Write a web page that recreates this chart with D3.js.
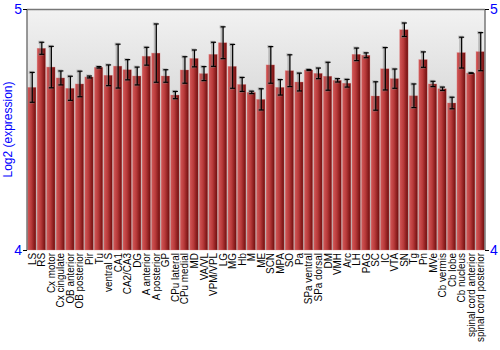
<!DOCTYPE html>
<html>
<head>
<meta charset="utf-8">
<script src="https://cdn.jsdelivr.net/npm/d3@7"></script>
<style>
  body { margin: 0; background: #fff; }
  svg { font-family: "Liberation Sans", Arial, sans-serif; }
</style>
</head>
<body>
<div id="wrapper"></div>
<script>
const regions = ["LS", "RS", "Cx motor", "Cx cingulate", "OB anterior", "OB posterior", "Pir", "Tu",
  "ventral S", "CA1", "CA2/CA3", "DG", "A anterior", "A posterior", "GP", "CPu lateral", "CPu medial",
  "MD", "VA/VL", "VPM/VPL", "LG", "MG", "Hb", "M", "ME", "SCN", "MPA", "SO", "Pa", "SPa ventral",
  "SPa dorsal", "DM", "VMH", "Arc", "LH", "PAG", "SC", "IC", "VTA", "SN", "Tg", "Pn", "MVe",
  "Cb vermis", "Cb lobe", "Cb nucleus", "spinal cord anterior", "spinal cord posterior"]

const expression = [4.675, 4.837, 4.759, 4.714, 4.671, 4.689, 4.718, 4.758,
  4.725, 4.763, 4.748, 4.722, 4.804, 4.817, 4.722, 4.643, 4.747,
  4.795, 4.732, 4.812, 4.860, 4.762, 4.687, 4.654, 4.625, 4.768, 4.675, 4.744, 4.697, 4.747,
  4.733, 4.721, 4.704, 4.692, 4.812, 4.808, 4.639, 4.752, 4.711, 4.914, 4.640, 4.790, 4.689,
  4.669, 4.610, 4.819, 4.734, 4.823]

const errors = [0.062, 0.025, 0.086, 0.029, 0.050, 0.053, 0.004, 0.003,
  0.043, 0.091, 0.042, 0.037, 0.037, 0.121, 0.026, 0.015, 0.055,
  0.035, 0.029, 0.050, 0.066, 0.091, 0.029, 0.005, 0.044, 0.076, 0.032, 0.066, 0.037, 0.002,
  0.022, 0.058, 0.007, 0.016, 0.026, 0.010, 0.059, 0.088, 0.040, 0.028, 0.049, 0.032, 0.011,
  0.007, 0.024, 0.064, 0.001, 0.079]

const yTicks = [4, 5]

const data = regions.map((r, i) => ({ region: r, value: expression[i], err: errors[i] }))

let dimensions = {
  width: 500,
  height: 350,
  margin: { top: 9, right: 15, bottom: 100, left: 27 }
}
dimensions.boundedWidth = dimensions.width - dimensions.margin.left - dimensions.margin.right
dimensions.boundedHeight = dimensions.height - dimensions.margin.top - dimensions.margin.bottom

const wrapper = d3.select('#wrapper')
  .append('svg')
  .attr('width', dimensions.width)
  .attr('height', dimensions.height)

const defs = wrapper.append('defs')
const bg = defs.append('linearGradient').attr('id', 'bg')
  .attr('x1', 0).attr('y1', 0).attr('x2', 0).attr('y2', 1)
bg.append('stop').attr('offset', '0%').attr('stop-color', '#f2f2f2')
bg.append('stop').attr('offset', '100%').attr('stop-color', '#b4b4b4')

const barGrad = defs.append('linearGradient').attr('id', 'bar')
  .attr('x1', 0).attr('y1', 0).attr('x2', 1).attr('y2', 0)
barGrad.append('stop').attr('offset', '0%').attr('stop-color', '#d25858')
barGrad.append('stop').attr('offset', '45%').attr('stop-color', '#b83a3a')
barGrad.append('stop').attr('offset', '100%').attr('stop-color', '#6e0c0c')

const bounds = wrapper.append('g')
  .attr('transform', `translate(${dimensions.margin.left}, ${dimensions.margin.top})`)

const xScale = d3.scaleBand()
  .domain(regions)
  .range([0, dimensions.boundedWidth])
  .paddingInner(0.12)
  .paddingOuter(0.06)

const yScale = d3.scaleLinear()
  .domain([4, 5])
  .range([dimensions.boundedHeight, 0])

// plot background
bounds.append('rect')
  .attr('width', dimensions.boundedWidth)
  .attr('height', dimensions.boundedHeight)
  .attr('fill', 'url(#bg)')

// bars
bounds.selectAll('rect.bar')
  .data(data)
  .enter()
  .append('rect')
  .attr('class', 'bar')
  .attr('x', d => xScale(d.region))
  .attr('y', d => yScale(d.value))
  .attr('width', xScale.bandwidth())
  .attr('height', d => dimensions.boundedHeight - yScale(d.value))
  .attr('fill', 'url(#bar)')
  .attr('stroke', '#e08080')
  .attr('stroke-opacity', 0.5)
  .attr('stroke-width', 0.6)

// error bars
const errG = bounds.selectAll('g.err')
  .data(data)
  .enter()
  .append('g')
  .attr('class', 'err')
  .attr('transform', d => `translate(${xScale(d.region) + xScale.bandwidth() / 2}, 0)`)

function drawErr(color, width, opacity, dx) {
  errG.append('line')
    .attr('x1', dx).attr('x2', dx)
    .attr('y1', d => yScale(d.value + d.err))
    .attr('y2', d => yScale(d.value - d.err))
    .attr('stroke', color).attr('stroke-width', width).attr('stroke-opacity', opacity)
  errG.append('line')
    .attr('x1', -2.5 + dx).attr('x2', 2.5 + dx)
    .attr('y1', d => yScale(d.value + d.err))
    .attr('y2', d => yScale(d.value + d.err))
    .attr('stroke', color).attr('stroke-width', width).attr('stroke-opacity', opacity)
  errG.append('line')
    .attr('x1', -2.5 + dx).attr('x2', 2.5 + dx)
    .attr('y1', d => yScale(d.value - d.err))
    .attr('y2', d => yScale(d.value - d.err))
    .attr('stroke', color).attr('stroke-width', width).attr('stroke-opacity', opacity)
}
drawErr('#808080', 3, 0.45, -0.5)
drawErr('#000', 1.2, 1, 0.5)

// frame
bounds.append('line')
  .attr('x1', 0).attr('x2', dimensions.boundedWidth)
  .attr('y1', 0.5).attr('y2', 0.5)
  .attr('stroke', '#777').attr('stroke-width', 1.5)
bounds.append('line')
  .attr('x1', 0).attr('x2', 0)
  .attr('y1', 0).attr('y2', dimensions.boundedHeight)
  .attr('stroke', '#777').attr('stroke-width', 1.5)
bounds.append('line')
  .attr('x1', dimensions.boundedWidth).attr('x2', dimensions.boundedWidth)
  .attr('y1', 0).attr('y2', dimensions.boundedHeight)
  .attr('stroke', '#777').attr('stroke-width', 1.5)

// y axes
const yAxisLeft = d3.axisLeft(yScale).tickValues(yTicks).tickSize(4).tickFormat(d3.format('d'))
const yAxisRight = d3.axisRight(yScale).tickValues(yTicks).tickSize(4).tickFormat(d3.format('d'))

const leftAxis = bounds.append('g').call(yAxisLeft)
const rightAxis = bounds.append('g')
  .attr('transform', `translate(${dimensions.boundedWidth}, 0)`)
  .call(yAxisRight)

;[leftAxis, rightAxis].forEach(ax => {
  ax.select('.domain').remove()
  ax.selectAll('.tick line').attr('stroke', '#000')
  ax.selectAll('.tick text')
    .attr('fill', '#0000ff')
    .style('font-size', '14px')
    .style('font-family', '"Liberation Sans", Arial, sans-serif')
})
leftAxis.selectAll('.tick text').attr('x', -5)
rightAxis.selectAll('.tick text').attr('x', 5)

// x labels
bounds.append('g')
  .selectAll('text')
  .data(regions)
  .enter()
  .append('text')
  .attr('transform', d => `translate(${xScale(d) + xScale.bandwidth() / 2 + 4}, ${dimensions.boundedHeight + 3}) rotate(-90) scale(0.9, 1)`)
  .attr('text-anchor', 'end')
  .style('font-size', '11px')
  .attr('fill', '#000')
  .text(d => d)

// y label
wrapper.append('text')
  .attr('transform', `translate(12, ${dimensions.margin.top + dimensions.boundedHeight / 2}) rotate(-90)`)
  .attr('text-anchor', 'middle')
  .attr('fill', '#0000ff')
  .style('font-size', '12px')
  .text('Log2 (expression)')
</script>
</body>
</html>
